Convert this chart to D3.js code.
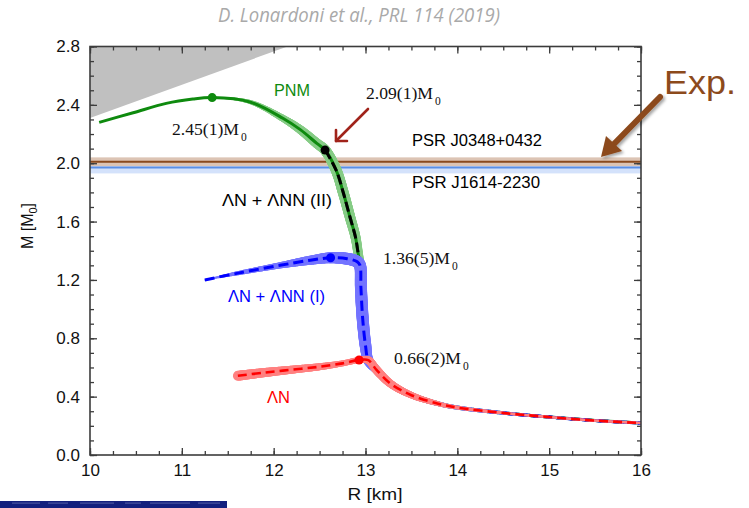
<!DOCTYPE html>
<html><head><meta charset="utf-8">
<script src="https://cdn.jsdelivr.net/npm/d3@7"></script>
<style>
html,body{margin:0;padding:0;background:#fff;}
svg{display:block;}
</style></head>
<body><svg id="c" width="749" height="508"></svg>
<script>
// ---------------- data ----------------
const xTicks = [10, 11, 12, 13, 14, 15, 16];
const yTicks = [0.0, 0.4, 0.8, 1.2, 1.6, 2.0, 2.4, 2.8];

// causality-excluded region
const causalR = [10, 12.15, 10];
const causalM = [2.8, 2.8, 2.31];

// pulsar bands
const psrNames = ["PSR J0348+0432", "PSR J1614-2230"];
const psrMass = [2.01, 1.97];
const psrLo = [1.98, 1.93];
const psrHi = [2.04, 2.01];

// common low-mass branch
const tailR = [12.94, 12.95, 12.97, 13.0, 13.03, 13.12, 13.27, 13.5, 13.8, 14.0, 14.5, 15.0, 15.5, 16.0];
const tailM = [1.30, 1.15, 0.93, 0.75, 0.65, 0.583, 0.49, 0.41, 0.35, 0.325, 0.288, 0.26, 0.236, 0.219];

// PNM
const pnmR = [10.1, 10.47, 10.83, 11.12, 11.33, 11.74, 12.1, 12.29, 12.47, 12.56, 12.68, 12.76, 12.83, 12.89, 12.92];
const pnmM = [2.28, 2.346, 2.41, 2.44, 2.45, 2.42, 2.308, 2.23, 2.136, 2.09, 1.953, 1.794, 1.633, 1.496, 1.382];
const pnmErr = [0, 0, 0, 0, 0.003, 0.014, 0.024, 0.03, 0.034, 0.036, 0.037, 0.037, 0.036, 0.034, 0.032,
  0.03, 0.03, 0.03, 0.03, 0.03, 0.028, 0.024, 0.02, 0.016, 0.014, 0.012, 0.01, 0.01, 0.01];

// ΛN + ΛNN (II)
const l2R = [12.56, 12.68, 12.76, 12.83, 12.89, 12.92];
const l2M = [2.09, 1.953, 1.794, 1.633, 1.496, 1.382];

// ΛN + ΛNN (I)
const l1R = [11.25, 11.6, 12.07, 12.4, 12.62, 12.8, 12.91];
const l1M = [1.20, 1.245, 1.30, 1.335, 1.352, 1.345, 1.325];
const l1Err = [0.003, 0.014, 0.021, 0.031, 0.038, 0.041, 0.041,
  0.041, 0.041, 0.041, 0.04, 0.035, 0.028, 0.024, 0.02, 0.016, 0.014, 0.012, 0.01, 0.01, 0.01];

// ΛN
const lnR = [11.61, 11.9, 12.2, 12.5, 12.75, 12.93];
const lnM = [0.543, 0.565, 0.585, 0.605, 0.628, 0.651];
const lnErr = [0.034, 0.031, 0.027, 0.024, 0.02, 0.02,
  0.027, 0.03, 0.027, 0.022, 0.016, 0.012, 0.009, 0.008, 0.008, 0.008];

// maximum masses
const maxR = [11.33, 12.56, 12.62, 12.93];
const maxM = [2.45, 2.09, 1.352, 0.651];
const maxLabels = ["2.45(1)M", "2.09(1)M", "1.36(5)M", "0.66(2)M"];

// ---------------- layout ----------------
const svg = d3.select("#c");
const x = d3.scaleLinear().domain([10, 16]).range([90, 641]);
const y = d3.scaleLinear().domain([0, 2.8]).range([455, 46.5]);
const SANS = "'Liberation Sans', Arial, sans-serif";
const SERIF = "'Liberation Serif', 'Times New Roman', serif";

svg.append("defs").html(`
  <clipPath id="plot"><rect x="90" y="46.5" width="551" height="408.5"/></clipPath>
  <filter id="sh" x="-30%" y="-30%" width="160%" height="160%">
    <feDropShadow dx="2" dy="2" stdDeviation="1.6" flood-color="#000" flood-opacity="0.35"/>
  </filter>`);

const plot = svg.append("g").attr("clip-path", "url(#plot)");

// causality region
plot.append("path")
  .attr("d", d3.line()(causalR.map((r, i) => [x(r), y(causalM[i])])) + "Z")
  .attr("fill", "#c0c0c0");

// pulsar bands
plot.append("rect").attr("x", 90).attr("width", 551)
  .attr("y", y(psrHi[1])).attr("height", y(psrLo[1]) - y(psrHi[1]))
  .attr("fill", "#d4e2fb");
plot.append("rect").attr("x", 90).attr("width", 551)
  .attr("y", y(psrHi[0])).attr("height", y(psrLo[0]) - y(psrHi[0]))
  .attr("fill", "#dcc4b4");
plot.append("line").attr("x1", 90).attr("x2", 641)
  .attr("y1", y(psrMass[1])).attr("y2", y(psrMass[1]))
  .attr("stroke", "#5b8fe6").attr("stroke-width", 2);
plot.append("line").attr("x1", 90).attr("x2", 641)
  .attr("y1", y(psrMass[0])).attr("y2", y(psrMass[0]))
  .attr("stroke", "#8a4a1e").attr("stroke-width", 2);

const lineGen = d3.line().curve(d3.curveCatmullRom.alpha(0.5));

function band(R, M, E, color) {
  const pts = R.map((r, i) => [x(r), y(M[i])]);
  const tmp = plot.append("path").attr("d", lineGen(pts)).attr("fill", "none");
  const node = tmp.node();
  const L = node.getTotalLength();
  const samples = [];
  for (let s = 0; s <= L; s += 1) {
    const p = node.getPointAtLength(s);
    samples.push([p.x, p.y, s]);
  }
  const vl = [];
  let j = 0;
  pts.forEach(p => {
    let best = Infinity, bi = j;
    for (let k = j; k < Math.min(samples.length, j + 400); k++) {
      const dd = (samples[k][0] - p[0]) ** 2 + (samples[k][1] - p[1]) ** 2;
      if (dd < best) { best = dd; bi = k; }
    }
    vl.push(samples[bi][2]);
    j = bi;
  });
  tmp.remove();
  const g = plot.append("g").attr("stroke", color).attr("stroke-linecap", "round");
  const wAt = s => {
    let i = 0;
    while (i < vl.length - 2 && s > vl[i + 1]) i++;
    const t = vl[i + 1] > vl[i] ? Math.max(0, Math.min(1, (s - vl[i]) / (vl[i + 1] - vl[i]))) : 0;
    const e = E[i] + (E[i + 1] - E[i]) * t;
    return 2 * (y(0) - y(e));
  };
  for (let k = 0; k < samples.length - 1; k++) {
    const w = wAt(samples[k][2]);
    if (w < 0.5) continue;
    g.append("line")
      .attr("x1", samples[k][0]).attr("y1", samples[k][1])
      .attr("x2", samples[k + 1][0]).attr("y2", samples[k + 1][1])
      .attr("stroke-width", w);
  }
}
function curve(R, M, color, width, dash) {
  plot.append("path")
    .attr("d", lineGen(R.map((r, i) => [x(r), y(M[i])])))
    .attr("fill", "none").attr("stroke", color).attr("stroke-width", width)
    .attr("stroke-dasharray", dash || null);
}

const pnmAllR = pnmR.concat(tailR), pnmAllM = pnmM.concat(tailM);
band(pnmAllR, pnmAllM, pnmErr, "#86cc86");
curve(pnmAllR, pnmAllM, "#0e8a0e", 3);
curve(l2R.concat(tailR), l2M.concat(tailM), "#000", 3, "10,4");

const l1AllR = l1R.concat(tailR), l1AllM = l1M.concat(tailM);
band(l1AllR, l1AllM, l1Err, "#7474ff");
curve(l1AllR, l1AllM, "#0000ff", 3, "10,5");

const lnAllR = lnR.concat(tailR.slice(4)), lnAllM = lnM.concat(tailM.slice(4));
band(lnAllR, lnAllM, lnErr, "#ff8080");
curve(lnAllR, lnAllM, "#ff0000", 2.6, "9,5");

// max-mass dots
const dotColors = ["#0e8a0e", "#000", "#0000ff", "#ff0000"];
plot.selectAll("circle.mx").data(maxR).join("circle")
  .attr("cx", d => x(d)).attr("cy", (d, i) => y(maxM[i]))
  .attr("r", 4.5).attr("fill", (d, i) => dotColors[i]);

// ---------------- axes ----------------
const axG = svg.append("g");
const frameColor = "#3c3c3c";
function styleAxis(g) {
  g.select(".domain").remove();
  g.selectAll(".tick line").attr("stroke", frameColor).attr("stroke-width", 1.3);
  g.selectAll("text").attr("font-family", SANS).attr("font-size", 17).attr("fill", "#111");
}
const xMinor = d3.range(10, 16.001, 0.25);
const yMinor = d3.range(0, 2.8001, 0.1);
// bottom
axG.append("g").attr("transform", "translate(0,455)")
  .call(d3.axisBottom(x).tickValues(xMinor).tickSize(-4).tickFormat("")).call(styleAxis);
axG.append("g").attr("transform", "translate(0,455)")
  .call(d3.axisBottom(x).tickValues(xTicks).tickSize(-7).tickPadding(9).tickFormat(d3.format("d"))).call(styleAxis);
// top
axG.append("g").attr("transform", "translate(0,46.5)")
  .call(d3.axisTop(x).tickValues(xMinor).tickSize(-4).tickFormat("")).call(styleAxis);
axG.append("g").attr("transform", "translate(0,46.5)")
  .call(d3.axisTop(x).tickValues(xTicks).tickSize(-7).tickFormat("")).call(styleAxis);
// left
axG.append("g").attr("transform", "translate(90,0)")
  .call(d3.axisLeft(y).tickValues(yMinor).tickSize(-4).tickFormat("")).call(styleAxis);
axG.append("g").attr("transform", "translate(90,0)")
  .call(d3.axisLeft(y).tickValues(yTicks).tickSize(-7).tickPadding(10).tickFormat(d3.format(".1f"))).call(styleAxis);
// right
axG.append("g").attr("transform", "translate(641,0)")
  .call(d3.axisRight(y).tickValues(yMinor).tickSize(-4).tickFormat("")).call(styleAxis);
axG.append("g").attr("transform", "translate(641,0)")
  .call(d3.axisRight(y).tickValues(yTicks).tickSize(-7).tickFormat("")).call(styleAxis);
// frame
svg.append("rect").attr("x", 90).attr("y", 46.5).attr("width", 551).attr("height", 408.5)
  .attr("fill", "none").attr("stroke", frameColor).attr("stroke-width", 1.6);

// axis titles
svg.append("text").attr("x", 375).attr("y", 500).attr("text-anchor", "middle")
  .attr("font-family", SANS).attr("font-size", 16).attr("fill", "#111")
  .attr("textLength", 55).attr("lengthAdjust", "spacingAndGlyphs").text("R [km]");
const yl = svg.append("text").attr("transform", "translate(33,226) rotate(-90)")
  .attr("text-anchor", "middle").attr("font-family", SANS).attr("font-size", 16).attr("fill", "#111");
yl.append("tspan").text("M [M");
yl.append("tspan").attr("font-size", 11).attr("dy", 4).text("0");
yl.append("tspan").attr("dy", -4).text("]");

// ---------------- labels ----------------
function sansLabel(txt, x0, base, len, color, size) {
  svg.append("text").attr("x", x0).attr("y", base)
    .attr("font-family", SANS).attr("font-size", size || 16).attr("fill", color)
    .attr("textLength", len).attr("lengthAdjust", "spacingAndGlyphs").text(txt);
}
sansLabel("PNM", 274, 96, 36, "#0e8a0e");
sansLabel("ΛN + ΛNN (II)", 222, 206, 110, "#000");
sansLabel("ΛN + ΛNN (I)", 228, 302, 97, "#0000ff");
sansLabel("ΛN", 267, 403, 23, "#ff0000");
sansLabel(psrNames[0], 412, 146, 130, "#000");
sansLabel(psrNames[1], 412, 188, 128, "#000");

const massPos = [[172, 135], [366, 99], [383, 264], [394, 364]];
maxLabels.forEach((t, i) => {
  const [x0, b] = massPos[i];
  svg.append("text").attr("x", x0).attr("y", b)
    .attr("font-family", SERIF).attr("font-size", 17.5).attr("fill", "#111")
    .attr("textLength", 67).attr("lengthAdjust", "spacingAndGlyphs").text(t);
  svg.append("text").attr("x", x0 + 69).attr("y", b + 6)
    .attr("font-family", SERIF).attr("font-size", 11.5).attr("fill", "#111").text("0");
});

// title
svg.append("text").attr("x", 218).attr("y", 22)
  .attr("font-family", "'Open Sans', sans-serif").attr("font-style", "italic")
  .attr("font-size", 20).attr("fill", "#a9a9a9")
  .attr("textLength", 282).attr("lengthAdjust", "spacingAndGlyphs")
  .text("D. Lonardoni et al., PRL 114 (2019)");

// Exp.
sansLabel("Exp.", 664, 94, 72, "#8c4a1c", 34);

// dark red arrow to 2.09 point
const ar = svg.append("g").attr("stroke", "#a0231a").attr("stroke-width", 2.6)
  .attr("fill", "none").attr("stroke-linecap", "round").attr("stroke-linejoin", "round");
ar.append("line").attr("x1", 368).attr("y1", 109).attr("x2", 336).attr("y2", 141);
ar.append("polyline").attr("points", "336,130 336,141 347,141");

// brown Exp. arrow
const ba = svg.append("g").attr("filter", "url(#sh)");
ba.append("line").attr("x1", 660).attr("y1", 97).attr("x2", 612).attr("y2", 146)
  .attr("stroke", "#8c4a1c").attr("stroke-width", 6).attr("stroke-linecap", "round");
ba.append("polygon").attr("points", "601,157 606,136 622,151").attr("fill", "#8c4a1c");

// bottom-left artifact strip
const art = svg.append("g");
art.append("rect").attr("x", 0).attr("y", 501).attr("width", 227).attr("height", 7).attr("fill", "#13207e");
[[12, 28], [48, 20], [80, 34], [125, 16], [150, 40], [198, 22]].forEach(([a, w]) => {
  art.append("rect").attr("x", a).attr("y", 502.5).attr("width", w).attr("height", 1.2)
    .attr("fill", "#8a92c8").attr("opacity", 0.45);
});
</script>
</body></html>
